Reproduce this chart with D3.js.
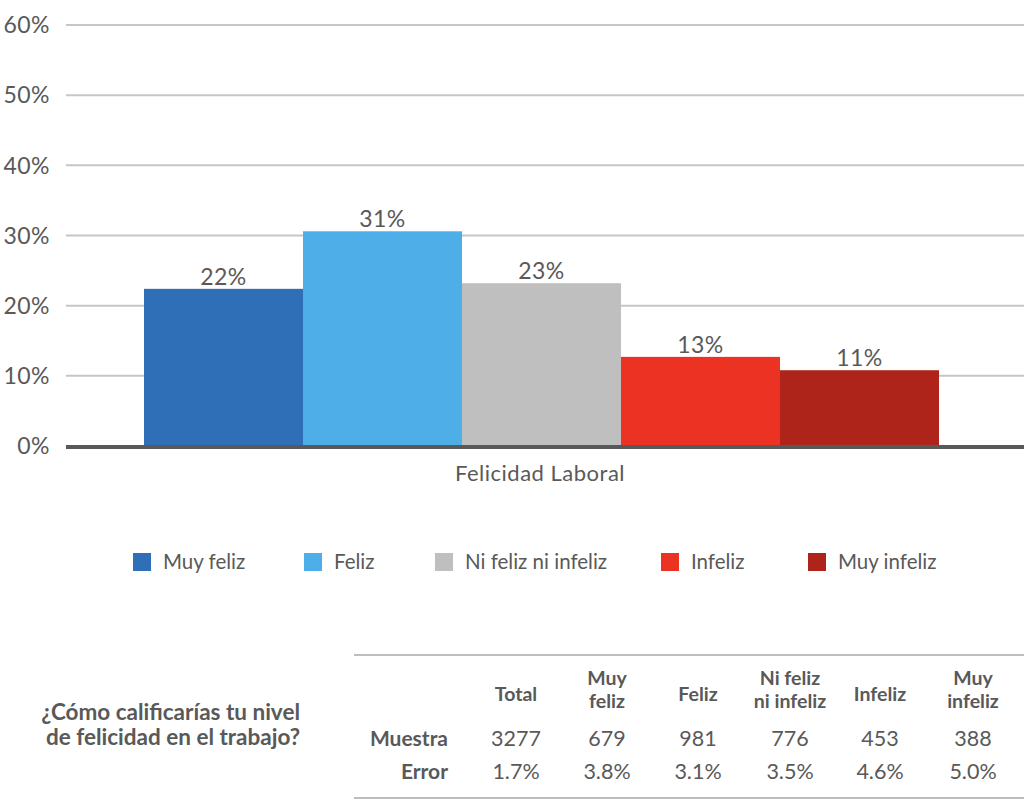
<!DOCTYPE html>
<html lang="en">
<head>
<meta charset="UTF-8">
<script src="https://d3js.org/d3.v7.min.js"></script>
<title>Felicidad Laboral</title>
<style>
  body { margin: 0; background: #fff; }
  text { font-family: Lato, "Open Sans", sans-serif; fill: #595959; }
</style>
</head>
<body>
<div id="chart"></div>
<script>
// data
var categories = ["Muy feliz", "Feliz", "Ni feliz ni infeliz", "Infeliz", "Muy infeliz"];
var values = [22.4, 30.6, 23.2, 12.7, 10.8];
var valueLabels = ["22%", "31%", "23%", "13%", "11%"];
var colors = ["#2e6fb7", "#4daee8", "#bfbfbf", "#ec3323", "#ae231a"];
var yTicks = [0, 10, 20, 30, 40, 50, 60];
var groupLabel = "Felicidad Laboral";

var tableHeaders = [["Total"], ["Muy", "feliz"], ["Feliz"], ["Ni feliz", "ni infeliz"], ["Infeliz"], ["Muy", "infeliz"]];
var muestra = ["3277", "679", "981", "776", "453", "388"];
var errores = ["1.7%", "3.8%", "3.1%", "3.5%", "4.6%", "5.0%"];
var question = ["¿Cómo calificarías tu nivel", "de felicidad en el trabajo?"];

var width = 1024, height = 800;
var svg = d3.select("#chart").append("svg")
    .attr("width", width).attr("height", height);

var left = 66, right = 1024;
var y = d3.scaleLinear().domain([0, 60]).range([446, 25]);
var x = d3.scaleBand().domain(categories)
    .range([144, 939]);

// gridlines
svg.append("g").selectAll("line")
    .data(yTicks.filter(function (d) { return d > 0; }))
    .join("line")
    .attr("x1", left).attr("x2", right)
    .attr("y1", function (d) { return y(d); })
    .attr("y2", function (d) { return y(d); })
    .attr("stroke", "#c6c6c6").attr("stroke-width", 2);

// y labels
svg.append("g").selectAll("text")
    .data(yTicks)
    .join("text")
    .attr("x", 50)
    .attr("y", function (d) { return y(d); })
    .attr("dy", "0.36em")
    .attr("text-anchor", "end")
    .attr("font-size", "23px")
    .attr("letter-spacing", "0.5px")
    .text(function (d) { return d + "%"; });

// bars
svg.append("g").selectAll("rect")
    .data(values)
    .join("rect")
    .attr("x", function (d, i) { return x(categories[i]); })
    .attr("width", x.bandwidth())
    .attr("y", function (d) { return y(d); })
    .attr("height", function (d) { return y(0) - y(d); })
    .attr("fill", function (d, i) { return colors[i]; });

// value labels
svg.append("g").selectAll("text")
    .data(values)
    .join("text")
    .attr("x", function (d, i) { return x(categories[i]) + x.bandwidth() / 2; })
    .attr("y", function (d) { return y(d) - 4; })
    .attr("text-anchor", "middle")
    .attr("font-size", "23px")
    .attr("letter-spacing", "0.5px")
    .text(function (d, i) { return valueLabels[i]; });

// baseline
svg.append("line")
    .attr("x1", left).attr("x2", right)
    .attr("y1", y(0) + 1).attr("y2", y(0) + 1)
    .attr("stroke", "#595959").attr("stroke-width", 4);

// category label
svg.append("text")
    .attr("x", 540)
    .attr("y", 481)
    .attr("text-anchor", "middle")
    .attr("font-size", "22px")
    .attr("letter-spacing", "0.5px")
    .text(groupLabel);

// legend
var legendX = [133, 304, 435, 661, 808];
var legend = svg.append("g").selectAll("g")
    .data(categories)
    .join("g")
    .attr("transform", function (d, i) { return "translate(" + legendX[i] + ",553)"; });
legend.append("rect")
    .attr("width", 18).attr("height", 18)
    .attr("fill", function (d, i) { return colors[i]; });
legend.append("text")
    .attr("x", 30).attr("y", 9)
    .attr("dy", "0.36em")
    .attr("font-size", "20.5px")
    .text(function (d) { return d; });

// table
var colX = [516, 607, 698, 790, 880, 973];
svg.append("line")
    .attr("x1", 354).attr("x2", 1024).attr("y1", 655).attr("y2", 655)
    .attr("stroke", "#bdbdbd").attr("stroke-width", 2);
svg.append("line")
    .attr("x1", 354).attr("x2", 1024).attr("y1", 798).attr("y2", 798)
    .attr("stroke", "#bdbdbd").attr("stroke-width", 2);

// header lines as separate texts
var headLines = [];
tableHeaders.forEach(function (h, i) {
    var startY = h.length === 1 ? 701 : 685;
    h.forEach(function (line, j) {
        headLines.push({ text: line, x: colX[i], y: startY + j * 23 });
    });
});
svg.append("g").selectAll("text")
    .data(headLines)
    .join("text")
    .attr("x", function (d) { return d.x; })
    .attr("y", function (d) { return d.y; })
    .attr("text-anchor", "middle")
    .attr("font-size", "19.5px")
    .attr("font-weight", "bold")
    .text(function (d) { return d.text; });

var rows = [["Muestra", muestra], ["Error", errores]];
var rowY = [746, 779];
rows.forEach(function (r, k) {
    svg.append("text")
        .attr("x", 448).attr("y", rowY[k])
        .attr("text-anchor", "end")
        .attr("font-size", "21px")
        .attr("font-weight", "bold")
        .text(r[0]);
    svg.append("g").selectAll("text")
        .data(r[1])
        .join("text")
        .attr("x", function (d, i) { return colX[i]; })
        .attr("y", rowY[k])
        .attr("text-anchor", "middle")
        .attr("font-size", "21.5px")
        .text(function (d) { return d; });
});

svg.append("g").selectAll("text")
    .data(question)
    .join("text")
    .attr("x", 300)
    .attr("y", function (d, i) { return 720 + i * 25; })
    .attr("text-anchor", "end")
    .attr("font-size", "22.5px")
    .attr("font-weight", "bold")
    .text(function (d) { return d; });
</script>
</body>
</html>
